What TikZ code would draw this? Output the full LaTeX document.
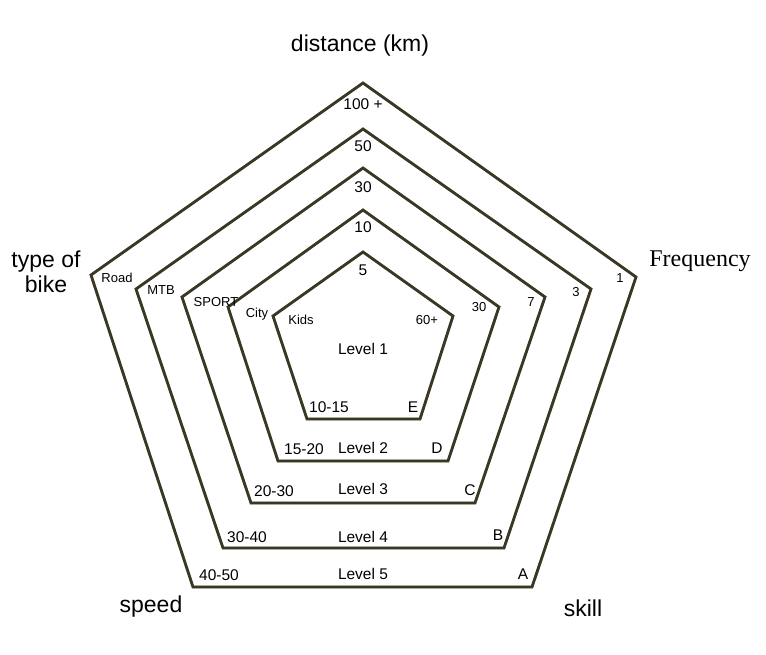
\documentclass[tikz,border=0pt]{standalone}
\usepackage{fontspec}
\setmainfont{Liberation Sans}
\newfontfamily\serfont{Liberation Serif}
\definecolor{olive}{RGB}{58,56,36}
\tikzset{
  ring/.style={draw=olive, line width=2.8pt, line join=miter},
  shade/.style={draw=black!25, line width=2.6pt, line join=miter},
  axis/.style={font=\fontsize{23}{25}\selectfont, align=center},
  val/.style={font=\fontsize{15.5}{17}\selectfont, inner sep=0pt},
  tag/.style={font=\fontsize{13}{14}\selectfont, inner sep=0pt}
}

\begin{document}
\begin{tikzpicture}[x=1pt, y=-1pt]
  \useasboundingbox (0,0) rectangle (766,655);
  % level 5
  \coordinate (A1) at (363,83);
  \coordinate (A2) at (636,277);
  \coordinate (A3) at (532,587);
  \coordinate (A4) at (193,587);
  \coordinate (A5) at (91,275);
  % level 4
  \coordinate (B1) at (363,129);
  \coordinate (B2) at (591,289);
  \coordinate (B3) at (504,548);
  \coordinate (B4) at (223,548);
  \coordinate (B5) at (136,289);
  % level 3
  \coordinate (C1) at (363,168);
  \coordinate (C2) at (545,297);
  \coordinate (C3) at (475,503);
  \coordinate (C4) at (251,503);
  \coordinate (C5) at (182,297);
  % level 2
  \coordinate (D1) at (363,210);
  \coordinate (D2) at (499,307);
  \coordinate (D3) at (448,461);
  \coordinate (D4) at (278,461);
  \coordinate (D5) at (228,307);
  % level 1
  \coordinate (E1) at (363,252);
  \coordinate (E2) at (453,316);
  \coordinate (E3) at (420,419);
  \coordinate (E4) at (307,419);
  \coordinate (E5) at (273,316);

  \begin{scope}[shift={(1.2,1.6)}]
    \draw[shade] (A1) -- (A2) -- (A3) -- (A4) -- (A5) -- cycle;
    \draw[shade] (B1) -- (B2) -- (B3) -- (B4) -- (B5) -- cycle;
    \draw[shade] (C1) -- (C2) -- (C3) -- (C4) -- (C5) -- cycle;
    \draw[shade] (D1) -- (D2) -- (D3) -- (D4) -- (D5) -- cycle;
    \draw[shade] (E1) -- (E2) -- (E3) -- (E4) -- (E5) -- cycle;
  \end{scope}
  \draw[ring] (A1) -- (A2) -- (A3) -- (A4) -- (A5) -- cycle;
  \draw[ring] (B1) -- (B2) -- (B3) -- (B4) -- (B5) -- cycle;
  \draw[ring] (C1) -- (C2) -- (C3) -- (C4) -- (C5) -- cycle;
  \draw[ring] (D1) -- (D2) -- (D3) -- (D4) -- (D5) -- cycle;
  \draw[ring] (E1) -- (E2) -- (E3) -- (E4) -- (E5) -- cycle;

  % axes
  \node[axis] (dist) at (360,46) {distance (km)};
  \node[axis, font=\serfont\fontsize{24}{26}\selectfont] (freq) at (700,261) {Frequency};
  \node[axis] (bike) at (46,272) {type of\\bike};
  \node[axis] (speed) at (151,607) {speed};
  \node[axis] (skill) at (583,608) {skill};

  % distance
  \node[val] (d5) at (363,104) {100 +};
  \node[val] (d4) at (363,146) {50};
  \node[val] (d3) at (363,187) {30};
  \node[val] (d2) at (363,227) {10};
  \node[val] (d1) at (363,270) {5};
  % bike
  \node[tag] (b5) at (117,278) {Road};
  \node[tag] (b4) at (161,290) {MTB};
  \node[tag] (b3) at (216,302) {SPORT};
  \node[tag] (b2) at (257,314) {City};
  \node[tag] (b1) at (301,320) {Kids};
  % frequency
  \node[tag] (f5) at (620,278) {1};
  \node[tag] (f4) at (576,292) {3};
  \node[tag] (f3) at (531,302) {7};
  \node[tag] (f2) at (479,307) {30};
  \node[tag] (f1) at (427,320) {60+};
  % levels
  \node[val] (lv1) at (363,349) {Level 1};
  \node[val] (lv2) at (363,448) {Level 2};
  \node[val] (lv3) at (363,489) {Level 3};
  \node[val] (lv4) at (363,537) {Level 4};
  \node[val] (lv5) at (363,574) {Level 5};
  % speed
  \node[val] (s1) at (329,407) {10-15};
  \node[val] (s2) at (304,449) {15-20};
  \node[val] (s3) at (274,491) {20-30};
  \node[val] (s4) at (247,537) {30-40};
  \node[val] (s5) at (219,575) {40-50};
  % skill
  \node[val] (k1) at (413,407) {E};
  \node[val] (k2) at (437,448) {D};
  \node[val] (k3) at (470,490) {C};
  \node[val] (k4) at (498,535) {B};
  \node[val] (k5) at (523,574) {A};
\end{tikzpicture}
\end{document}
